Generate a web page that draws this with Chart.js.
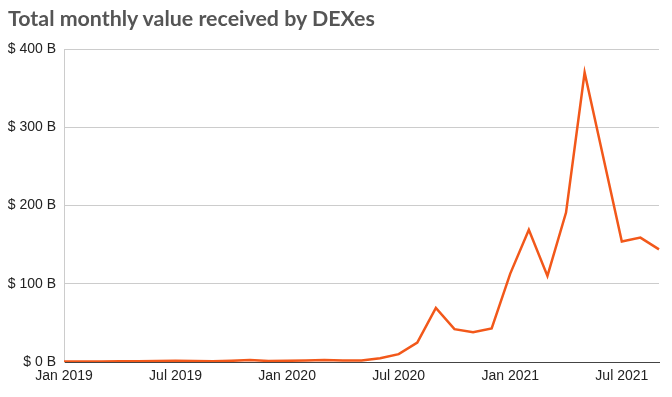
<!DOCTYPE html>
<html>
<head>
<meta charset="utf-8">
<script src="https://cdn.jsdelivr.net/npm/chart.js@4.4.0/dist/chart.umd.min.js"></script>
<style>
  html, body { margin: 0; padding: 0; background: #fff; }
  #wrap { position: relative; width: 672px; height: 397px; }
  #title {
    position: absolute; left: 8px; top: 5px;
    font-family: 'Lato', 'Noto Sans', sans-serif; font-weight: 700;
    font-size: 21.4px; color: #555; white-space: nowrap;
  }
</style>
</head>
<body>
<div id="wrap">
  <div id="title">Total monthly value received by DEXes</div>
  <canvas id="dexChart" width="672" height="397"></canvas>
</div>
<script>
// months Jan 2019 .. Sep 2021
const monthNames = ['Jan', 'Feb', 'Mar', 'Apr', 'May', 'Jun', 'Jul', 'Aug', 'Sep', 'Oct', 'Nov', 'Dec'];
const years = [2019, 2020, 2021];
const months = [];
years.forEach(y => monthNames.forEach(m => months.push(m + ' ' + y)));
months.length = 33;

// value received, billions USD
const values = [
  0.5, 0.6, 0.7, 0.8, 1.0, 1.4, 1.7, 1.2, 1.0, 1.5, 2.5, 1.3,
  1.5, 2.0, 2.5, 2.0, 1.8, 4.7, 10, 24.7, 69, 42, 38, 43,
  113, 169, 110, 191, 370, 262, 154, 159, 144
];

const yTicks = [0, 100, 200, 300, 400];

const isMajor = i => i % 6 === 0;

new Chart(document.getElementById('dexChart'), {
  type: 'line',
  data: {
    labels: months,
    datasets: [{
      data: values,
      borderColor: '#F2581A',
      borderWidth: 2.5,
      pointRadius: 0,
      tension: 0,
      fill: false
    }]
  },
  options: {
    responsive: false,
    animation: false,
    layout: { padding: { left: 0, right: 13, top: 49, bottom: 0 } },
    plugins: { legend: { display: false }, tooltip: { enabled: false } },
    scales: {
      x: {
        offset: false,
        grid: {
          drawTicks: false,
          color: ctx => isMajor(ctx.index) ? '#cccccc' : 'rgba(0,0,0,0)'
        },
        border: { color: '#444', width: 1 },
        ticks: {
          autoSkip: false,
          maxRotation: 0,
          padding: 6,
          color: '#222',
          font: { family: "'Liberation Sans', Arial, sans-serif", size: 14 },
          callback: function(v, i) { return isMajor(i) ? months[i] : null; }
        },
        afterFit: s => { s.height = 35; }
      },
      y: {
        min: 0,
        max: 400,
        afterBuildTicks: s => { s.ticks = yTicks.map(v => ({ value: v })); },
        grid: { drawTicks: false, color: '#cccccc' },
        border: { color: '#cccccc' },
        ticks: {
          padding: 8,
          color: '#222',
          font: { family: "'Liberation Sans', Arial, sans-serif", size: 14 },
          callback: v => '$ ' + v + ' B'
        },
        afterFit: s => { s.width = 64; }
      }
    }
  }
});
</script>
</body>
</html>
